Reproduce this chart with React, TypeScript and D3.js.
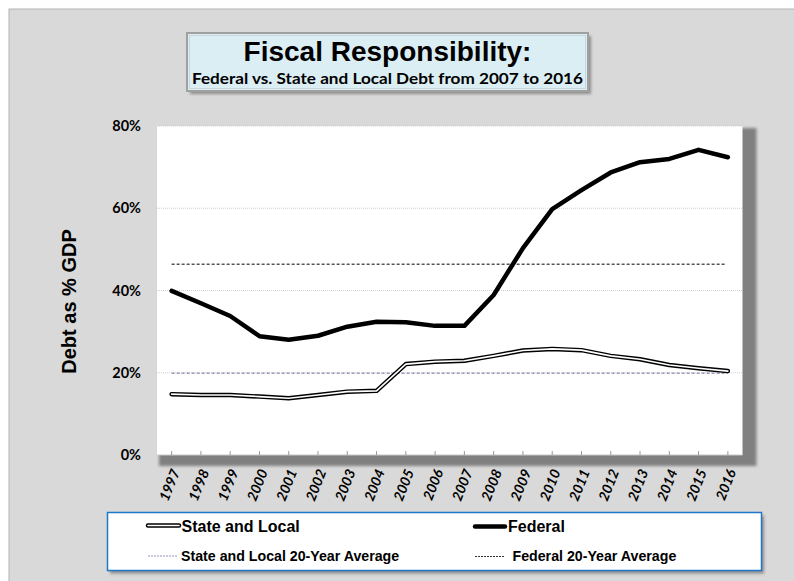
import React, { useEffect, useRef } from 'react';
import * as d3 from 'd3';

const YEARS = [
  '1997', '1998', '1999', '2000', '2001', '2002', '2003', '2004', '2005', '2006',
  '2007', '2008', '2009', '2010', '2011', '2012', '2013', '2014', '2015', '2016',
];
const STATE_LOCAL = [
  14.8, 14.6, 14.6, 14.2, 13.8, 14.6, 15.4, 15.6, 22.1, 22.7,
  22.9, 24.1, 25.4, 25.8, 25.5, 24.1, 23.3, 21.9, 21.1, 20.4,
];
const FEDERAL = [
  39.9, 36.9, 33.8, 28.9, 28.0, 29.0, 31.2, 32.4, 32.3, 31.4,
  31.4, 38.9, 50.3, 59.8, 64.4, 68.7, 71.2, 72.0, 74.2, 72.4,
];
const STATE_LOCAL_AVG = 19.9;
const FEDERAL_AVG = 46.4;
const Y_TICKS = [0, 20, 40, 60, 80];

const W = 794;
const H = 581;
const PLOT = { left: 157, right: 742.5, top: 126, bottom: 455 };

const ARIAL = 'Liberation Sans, Arial, sans-serif';
const CALIBRI = 'Lato, Carlito, Calibri, sans-serif';

export default function App() {
  const ref = useRef<SVGSVGElement>(null);

  useEffect(() => {
    if (!ref.current) return;
    const svg = d3.select(ref.current);
    svg.selectAll('*').remove();

    const defs = svg.append('defs');
    const blur = defs.append('filter').attr('id', 'shadow').attr('x', '-10%').attr('y', '-10%')
      .attr('width', '130%').attr('height', '140%');
    blur.append('feGaussianBlur').attr('stdDeviation', 1.5);

    // chart area background
    svg.append('rect').attr('x', 9).attr('y', 9).attr('width', W).attr('height', H)
      .attr('fill', '#d9d9d9').attr('stroke', '#b3b3b3').attr('stroke-width', 1);

    // title box
    svg.append('rect').attr('x', 190).attr('y', 36).attr('width', 401).attr('height', 58)
      .attr('fill', '#8c8c8c').attr('filter', 'url(#shadow)');
    svg.append('rect').attr('x', 187).attr('y', 33).attr('width', 401).attr('height', 58)
      .attr('fill', '#dbeef4').attr('stroke', '#a0a0a0').attr('stroke-width', 2);
    svg.append('rect').attr('x', 189.5).attr('y', 35.5).attr('width', 396).attr('height', 53)
      .attr('fill', 'none').attr('stroke', '#c9d6da').attr('stroke-width', 1);
    svg.append('text').attr('x', 387.5).attr('y', 60.5).attr('text-anchor', 'middle')
      .attr('font-family', ARIAL).attr('font-weight', 700).attr('font-size', 28)
      .text('Fiscal Responsibility:');
    svg.append('text').attr('x', 387.5).attr('y', 84).attr('text-anchor', 'middle')
      .attr('font-family', CALIBRI).attr('font-weight', 700).attr('font-size', 15.5)
      .attr('textLength', 391).attr('lengthAdjust', 'spacingAndGlyphs')
      .text('Federal vs. State and Local Debt from 2007 to 2016');

    // plot area with shadow
    svg.append('rect').attr('x', PLOT.left + 2).attr('y', PLOT.top + 2)
      .attr('width', PLOT.right - PLOT.left + 12).attr('height', PLOT.bottom - PLOT.top + 9)
      .attr('fill', '#808080').attr('filter', 'url(#shadow)');
    svg.append('rect').attr('x', PLOT.left).attr('y', PLOT.top)
      .attr('width', PLOT.right - PLOT.left).attr('height', PLOT.bottom - PLOT.top)
      .attr('fill', '#ffffff');

    const x = d3.scaleBand<string>().domain(YEARS).range([PLOT.left, PLOT.right]);
    const cx = (d: string) => (x(d) ?? 0) + x.bandwidth() / 2;
    const y = d3.scaleLinear().domain([0, 80]).range([PLOT.bottom, PLOT.top]);

    // gridlines
    svg.append('g').selectAll('line')
      .data(Y_TICKS.filter((t) => t > 0))
      .join('line')
      .attr('x1', PLOT.left).attr('x2', PLOT.right)
      .attr('y1', (d) => y(d)).attr('y2', (d) => y(d))
      .attr('stroke', '#d0d0d0').attr('stroke-width', 1).attr('stroke-dasharray', '1,1');

    // y axis labels
    svg.append('g').selectAll('text')
      .data(Y_TICKS)
      .join('text')
      .attr('x', 141).attr('y', (d) => y(d) + 5)
      .attr('text-anchor', 'end')
      .attr('font-family', CALIBRI).attr('font-weight', 700).attr('font-size', 14.5)
      .text((d) => `${d}%`);

    svg.append('text')
      .attr('transform', 'translate(76,301.5) rotate(-90)')
      .attr('text-anchor', 'middle')
      .attr('font-family', ARIAL).attr('font-weight', 700).attr('font-size', 20)
      .text('Debt as % GDP');

    // x axis
    svg.append('line').attr('x1', PLOT.left).attr('x2', PLOT.right)
      .attr('y1', PLOT.bottom).attr('y2', PLOT.bottom)
      .attr('stroke', '#c8c8c8').attr('stroke-width', 1);
    svg.append('g').selectAll('line')
      .data(YEARS)
      .join('line')
      .attr('x1', cx).attr('x2', cx)
      .attr('y1', PLOT.bottom - 4).attr('y2', PLOT.bottom)
      .attr('stroke', '#9a9a9a').attr('stroke-width', 1);
    svg.append('g').selectAll('text')
      .data(YEARS)
      .join('text')
      .attr('transform', (d) => `translate(${cx(d) + 4},470) rotate(-68)`)
      .attr('text-anchor', 'end')
      .attr('dy', '0.35em')
      .attr('font-family', CALIBRI).attr('font-weight', 700).attr('font-style', 'italic')
      .attr('font-size', 14)
      .text((d) => d);

    // 20-year averages
    const x0 = cx(YEARS[0]);
    const x1 = cx(YEARS[YEARS.length - 1]);
    svg.append('line').attr('x1', x0).attr('x2', x1)
      .attr('y1', y(STATE_LOCAL_AVG)).attr('y2', y(STATE_LOCAL_AVG))
      .attr('stroke', '#7a6a9c').attr('stroke-width', 1).attr('stroke-dasharray', '3,2');
    svg.append('line').attr('x1', x0).attr('x2', x1 - 2)
      .attr('y1', y(FEDERAL_AVG)).attr('y2', y(FEDERAL_AVG))
      .attr('stroke', '#000').attr('stroke-width', 1).attr('stroke-dasharray', '3,2');

    const line = d3.line<number>()
      .x((_, i) => cx(YEARS[i]))
      .y((d) => y(d));

    // state and local: double line
    svg.append('path').attr('d', line(STATE_LOCAL) ?? '')
      .attr('fill', 'none').attr('stroke', '#000').attr('stroke-width', 4.5)
      .attr('stroke-linejoin', 'round').attr('stroke-linecap', 'round');
    svg.append('path').attr('d', line(STATE_LOCAL) ?? '')
      .attr('fill', 'none').attr('stroke', '#fff').attr('stroke-width', 1.6)
      .attr('stroke-linejoin', 'round').attr('stroke-linecap', 'round');

    svg.append('path').attr('d', line(FEDERAL) ?? '')
      .attr('fill', 'none').attr('stroke', '#000').attr('stroke-width', 4.5)
      .attr('stroke-linejoin', 'round').attr('stroke-linecap', 'round');

    // legend
    svg.append('rect').attr('x', 110).attr('y', 515.5).attr('width', 654).attr('height', 58)
      .attr('fill', '#8c8c8c').attr('filter', 'url(#shadow)');
    svg.append('rect').attr('x', 107.5).attr('y', 512.5).attr('width', 654).attr('height', 58)
      .attr('fill', '#fff').attr('stroke', '#1f77c8').attr('stroke-width', 1.5);

    const lg = svg.append('g');
    lg.append('line').attr('x1', 148).attr('x2', 179).attr('y1', 525.5).attr('y2', 525.5)
      .attr('stroke', '#000').attr('stroke-width', 4.5).attr('stroke-linecap', 'round');
    lg.append('line').attr('x1', 148).attr('x2', 179).attr('y1', 525.5).attr('y2', 525.5)
      .attr('stroke', '#fff').attr('stroke-width', 1.6).attr('stroke-linecap', 'round');
    lg.append('text').attr('x', 181.5).attr('y', 532)
      .attr('font-family', ARIAL).attr('font-weight', 700).attr('font-size', 16)
      .text('State and Local');

    lg.append('line').attr('x1', 475).attr('x2', 505).attr('y1', 526.5).attr('y2', 526.5)
      .attr('stroke', '#000').attr('stroke-width', 4.5).attr('stroke-linecap', 'round');
    lg.append('text').attr('x', 508).attr('y', 532)
      .attr('font-family', ARIAL).attr('font-weight', 700).attr('font-size', 16)
      .text('Federal');

    lg.append('line').attr('x1', 148).attr('x2', 178).attr('y1', 556).attr('y2', 556)
      .attr('stroke', '#9d8fc4').attr('stroke-width', 1.2).attr('stroke-dasharray', '2,1');
    lg.append('text').attr('x', 181).attr('y', 561)
      .attr('font-family', ARIAL).attr('font-weight', 700).attr('font-size', 14.2)
      .text('State and Local 20-Year Average');

    lg.append('line').attr('x1', 475).attr('x2', 505).attr('y1', 556.5).attr('y2', 556.5)
      .attr('stroke', '#333').attr('stroke-width', 1.2).attr('stroke-dasharray', '2,1');
    lg.append('text').attr('x', 512.5).attr('y', 561)
      .attr('font-family', ARIAL).attr('font-weight', 700).attr('font-size', 14.2)
      .text('Federal 20-Year Average');
  }, []);

  return (
    <div style={{ position: 'absolute', left: 0, top: 0, width: W, height: H, background: '#fff' }}>
      <svg ref={ref} width={W} height={H} style={{ display: 'block' }} />
    </div>
  );
}
